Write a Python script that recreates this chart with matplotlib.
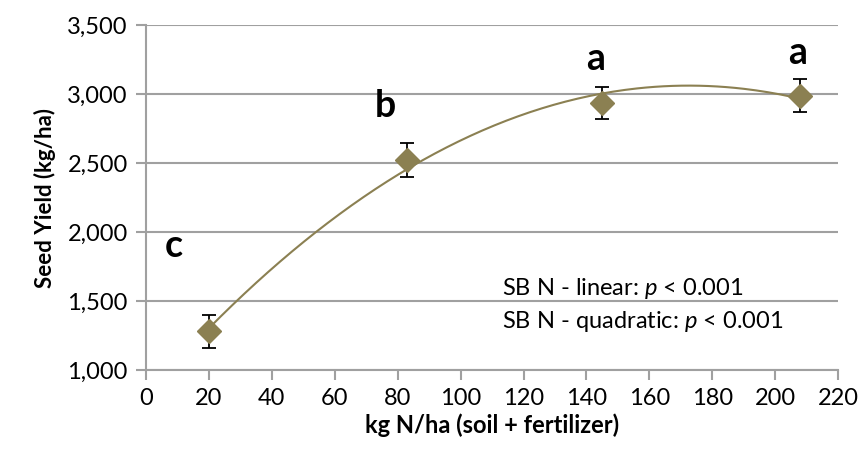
import numpy as np
import matplotlib.pyplot as plt
from matplotlib.ticker import FuncFormatter

# nitrogen rate (soil + fertilizer) and seed yield
n_rate = [20, 83, 145, 208]
seed_yield = [1280, 2522, 2938, 2988]
yield_err = [120, 120, 115, 118]
group_letters = ['c', 'b', 'a', 'a']
letter_x = [9, 76, 143, 207]
letter_y = [1900, 2915, 3255, 3300]

olive = '#8B8052'
grid_gray = '#A0A0A0'

plt.rcParams['font.family'] = ['Lato', 'DejaVu Sans']
plt.rcParams['mathtext.fontset'] = 'custom'
plt.rcParams['mathtext.rm'] = 'Lato'
plt.rcParams['mathtext.it'] = 'Lato:italic'

fig = plt.figure(figsize=(8.58, 4.49), dpi=100)
ax = fig.add_axes([0.170, 0.176, 0.807, 0.768])

# quadratic trend line over the data range
coef = np.polyfit(n_rate, seed_yield, 2)
xs = np.linspace(min(n_rate), max(n_rate), 200)
ax.plot(xs, np.polyval(coef, xs), color=olive, lw=1.5, zorder=3)

ax.errorbar(n_rate, seed_yield, yerr=yield_err, fmt='none', ecolor='black',
            elinewidth=1.3, capsize=5, capthick=1.3, zorder=4)
ax.plot(n_rate, seed_yield, 'D', color=olive, markersize=12, zorder=5)

for lx, ly, lt in zip(letter_x, letter_y, group_letters):
    ax.text(lx, ly, lt, fontsize=27, fontweight='bold', ha='center', va='center')

ax.text(113, 1590, 'SB N - linear: $\\it{p}$ < 0.001', fontsize=17, va='center')
ax.text(113, 1355, 'SB N - quadratic: $\\it{p}$ < 0.001', fontsize=17, va='center')

ax.set_xlim(0, 220)
ax.set_ylim(1000, 3500)
ax.set_xticks(range(0, 221, 20))
ax.set_yticks(range(1000, 3501, 500))
ax.yaxis.set_major_formatter(FuncFormatter(lambda v, p: f'{int(v):,}'))
ax.grid(axis='y', color=grid_gray, lw=1.5)
ax.set_axisbelow(True)
for s in ['top', 'right']:
    ax.spines[s].set_visible(False)
for s in ['left', 'bottom']:
    ax.spines[s].set_color(grid_gray)
    ax.spines[s].set_linewidth(1.5)
ax.tick_params(length=7, width=1.5, color=grid_gray, labelsize=17, pad=6)

ax.set_xlabel('kg N/ha (soil + fertilizer)', fontsize=17, fontweight='bold', labelpad=3)
ax.set_ylabel('Seed Yield (kg/ha)', fontsize=16, fontweight='bold', labelpad=8)

fig.savefig('out.png', dpi=100)
